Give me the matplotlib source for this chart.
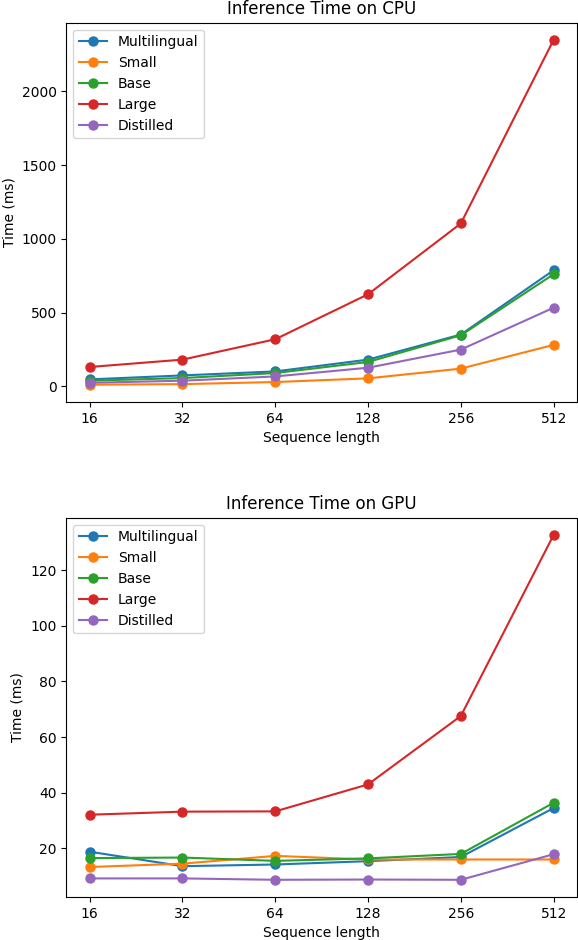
import matplotlib
matplotlib.use("Agg")
from matplotlib import pyplot as plt
from matplotlib.ticker import NullLocator

seq_lengths = [16, 32, 64, 128, 256, 512]
models = ['Multilingual', 'Small', 'Base', 'Large', 'Distilled']

# inference times in ms
cpu_times = {
    'Multilingual': [48, 75, 102, 182, 352, 788],
    'Small': [12, 16, 30, 55, 121, 282],
    'Base': [39, 57, 91, 166, 347, 761],
    'Large': [132, 182, 320, 625, 1105, 2350],
    'Distilled': [25, 39, 68, 127, 250, 534],
}
gpu_times = {
    'Multilingual': [18.8, 13.6, 14.2, 15.4, 16.9, 34.5],
    'Small': [13.3, 14.5, 17.3, 16.0, 16.0, 16.0],
    'Base': [16.5, 16.7, 15.5, 16.4, 18.0, 36.4],
    'Large': [32.1, 33.2, 33.3, 43.0, 67.6, 132.7],
    'Distilled': [9.2, 9.2, 8.7, 8.8, 8.7, 17.9],
}

fig, axes = plt.subplots(2, 1, figsize=(5.78, 9.4), dpi=100)

for ax, times, device in zip(axes, [cpu_times, gpu_times], ['CPU', 'GPU']):
    for name in models:
        ax.plot(seq_lengths, times[name], marker='o', markersize=6.5, linestyle='-', label=name)
    ax.set_xscale('log', base=2)
    ax.set_xticks(seq_lengths)
    ax.set_xticklabels([str(s) for s in seq_lengths])
    ax.xaxis.set_minor_locator(NullLocator())
    ax.set_title(f'Inference Time on {device}')
    ax.set_xlabel('Sequence length')
    ax.set_ylabel('Time (ms)')
    ax.legend(loc='upper left')

# tight margins like the original (saved with a tight bbox)
fig.subplots_adjust(left=0.115, right=0.998, top=0.976, bottom=0.0457, hspace=0.305)
plt.savefig('out.png')
